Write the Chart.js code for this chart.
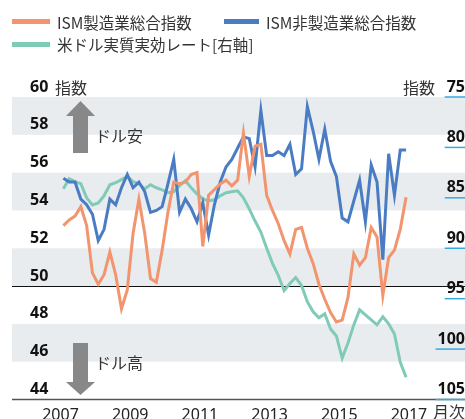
<!DOCTYPE html>
<html>
<head>
<meta charset="utf-8">
<script src="https://cdn.jsdelivr.net/npm/chart.js@4.4.0/dist/chart.umd.min.js"></script>
<style>
  body { margin: 0; background: #fff; }
  #wrap { position: relative; width: 465px; height: 419px; font-family: "Noto Sans CJK JP", sans-serif; color: #333; }
  #chart { position: absolute; left: 0; top: 0; }
  .swatch { position: absolute; height: 5px; }
  .name { position: absolute; font-size: 15.5px; line-height: 20px; white-space: nowrap; }
</style>
</head>
<body>
<div id="wrap">
  <canvas id="chart" width="465" height="419"></canvas>
  <div id="legend"></div>
</div>
<script>
// bimonthly points
const months = [
  "2007-02", "2007-04", "2007-06", "2007-08", "2007-10", "2007-12",
  "2008-02", "2008-04", "2008-06", "2008-08", "2008-10", "2008-12",
  "2009-02", "2009-04", "2009-06", "2009-08", "2009-10", "2009-12",
  "2010-02", "2010-04", "2010-06", "2010-08", "2010-10", "2010-12",
  "2011-02", "2011-04", "2011-06", "2011-08", "2011-10", "2011-12",
  "2012-02", "2012-04", "2012-06", "2012-08", "2012-10", "2012-12",
  "2013-02", "2013-04", "2013-06", "2013-08", "2013-10", "2013-12",
  "2014-02", "2014-04", "2014-06", "2014-08", "2014-10", "2014-12",
  "2015-02", "2015-04", "2015-06", "2015-08", "2015-10", "2015-12",
  "2016-02", "2016-04", "2016-06", "2016-08", "2016-10", "2016-12",
];

const ismMfg = [
  53.2, 53.5, 53.7, 54.2, 53.2, 50.7, 50.1, 50.6, 51.8, 50.6,
  48.8, 49.8, 52.8, 54.6, 52.8, 50.4, 50.2, 51.9, 53.9, 55.5,
  55.4, 55.5, 55.9, 56.0, 52.1, 54.8, 55.1, 55.4, 55.6, 55.3,
  55.6, 58.1, 55.8, 57.4, 57.5, 54.8, 54.0, 53.3, 52.4, 51.7,
  53.0, 53.1, 52.0, 51.2, 50.1, 49.3, 48.6, 48.1, 48.2, 49.4,
  51.7, 51.1, 51.5, 53.1, 52.6, 49.5, 51.5, 51.9, 53.0, 54.7,
];

const ismNonMfg = [
  55.7, 55.5, 55.5, 54.6, 54.3, 53.8, 52.4, 53.0, 54.6, 54.3,
  55.2, 55.9, 55.2, 55.5, 55.0, 53.9, 54.0, 54.2, 55.4, 56.7,
  53.9, 54.6, 54.1, 53.4, 54.4, 52.7, 54.3, 55.5, 56.3, 56.7,
  57.3, 57.9, 57.8, 56.3, 59.3, 56.9, 56.9, 57.1, 56.9, 57.5,
  55.9, 56.2, 59.5, 58.2, 56.7, 58.3, 56.6, 55.8, 53.6, 53.4,
  54.5, 55.6, 53.4, 56.4, 55.5, 51.4, 57.0, 54.8, 57.2, 57.2,
];

const usdReer = [
  84.1, 83.1, 83.4, 83.6, 85.0, 85.7, 85.5, 84.8, 83.7, 83.5,
  83.2, 82.9, 83.4, 83.6, 84.1, 83.7, 84.0, 84.2, 84.5, 84.4,
  83.8, 83.3, 84.0, 84.6, 85.1, 85.3, 85.2, 84.8, 84.5, 84.4,
  84.3, 85.0, 86.1, 87.3, 88.4, 90.0, 91.5, 92.7, 94.2, 93.5,
  92.9, 93.7, 95.3, 96.3, 96.9, 96.5, 98.0, 98.7, 100.9, 99.4,
  97.6, 96.1, 96.6, 97.1, 97.6, 96.8, 97.5, 98.5, 101.3, 102.8,
];

const yearTicks = ["2007", "2009", "2011", "2013", "2015", "2017"];
const seriesNames = ["ISM製造業総合指数", "ISM非製造業総合指数", "米ドル実質実効レート[右軸]"];
const colors = ["#f2946e", "#4a7cc4", "#80cab8"];
const unitLabel = "指数";
const xUnitLabel = "月次";
const arrowNotes = ["ドル安", "ドル高"];

const monthIndex = (s) => {
  const [y, m] = s.split("-").map(Number);
  return (y - 2007) * 12 + (m - 1);
};
const toPoints = (values) => values.map((v, i) => ({ x: monthIndex(months[i]), y: v }));

const textFont = '16px "Noto Sans CJK JP", sans-serif';
const tickFont = { family: '"Noto Sans", "Noto Sans CJK JP", sans-serif', size: 16, weight: "bold" };

// legend in html, left column / second column / second row
const legendSlots = [
  { left: 12, width: 38, top: 21.5 },
  { left: 224, width: 35, top: 21.5 },
  { left: 12, width: 38, top: 44 },
];
const legend = document.getElementById("legend");
seriesNames.forEach((name, i) => {
  const slot = legendSlots[i];
  const sw = document.createElement("div");
  sw.className = "swatch";
  sw.style.cssText = `left:${slot.left}px;width:${slot.width}px;top:${slot.top - 2.5}px;background:${colors[i]}`;
  const label = document.createElement("div");
  label.className = "name";
  label.style.cssText = `left:${slot.left + slot.width + 7}px;top:${slot.top - 10}px`;
  label.textContent = name;
  legend.appendChild(sw);
  legend.appendChild(label);
});

const drawArrow = (ctx, tipY, baseY, endY) => {
  ctx.beginPath();
  ctx.moveTo(80.5, tipY);
  ctx.lineTo(95, baseY);
  ctx.lineTo(88, baseY);
  ctx.lineTo(88, endY);
  ctx.lineTo(73, endY);
  ctx.lineTo(73, baseY);
  ctx.lineTo(66, baseY);
  ctx.closePath();
  ctx.fill();
};

const decorations = {
  id: "decorations",
  beforeDraw(chart) {
    const { ctx, scales: { y } } = chart;
    ctx.save();
    ctx.fillStyle = "#e9ecef";
    [[58, 60], [54, 56], [50, 52], [46, 48]].forEach(([lo, hi]) => {
      const top = y.getPixelForValue(hi);
      const bottom = y.getPixelForValue(lo);
      ctx.fillRect(12, top, chart.width - 12, bottom - top);
    });
    ctx.restore();
  },
  beforeDatasetsDraw(chart) {
    const { ctx, scales: { y } } = chart;
    ctx.save();
    ctx.strokeStyle = "#111";
    ctx.lineWidth = 1;
    const y50 = Math.round(y.getPixelForValue(50)) + 0.5;
    ctx.beginPath();
    ctx.moveTo(12, y50);
    ctx.lineTo(chart.width, y50);
    ctx.stroke();
    ctx.strokeStyle = "#555";
    ctx.lineWidth = 1.5;
    const yBottom = y.getPixelForValue(44);
    ctx.beginPath();
    ctx.moveTo(12, yBottom);
    ctx.lineTo(chart.width, yBottom);
    ctx.stroke();
    ctx.restore();
  },
  afterDraw(chart) {
    const { ctx, scales: { y2 } } = chart;
    ctx.save();
    // blue underline under right tick labels
    ctx.font = `bold 16px ${tickFont.family}`;
    ctx.strokeStyle = "#35a9e1";
    ctx.lineWidth = 1.5;
    y2.ticks.forEach((t) => {
      const py = y2.getPixelForValue(t.value);
      const w = ctx.measureText(String(t.value)).width;
      ctx.beginPath();
      ctx.moveTo(463 - w, py);
      ctx.lineTo(chart.width, py);
      ctx.stroke();
    });

    ctx.fillStyle = "#888";
    drawArrow(ctx, 101, 116, 153);
    drawArrow(ctx, 395, 382, 343);

    ctx.font = textFont;
    ctx.fillStyle = "#333";
    ctx.textBaseline = "middle";
    ctx.textAlign = "left";
    ctx.fillText(unitLabel, 55, 88);
    ctx.fillText(arrowNotes[0], 95, 136);
    ctx.fillText(arrowNotes[1], 95, 363);
    ctx.textAlign = "right";
    ctx.fillText(unitLabel, 435, 88);
    ctx.fillText(xUnitLabel, 465, 412);
    ctx.restore();
  },
};

new Chart(document.getElementById("chart").getContext("2d"), {
  type: "line",
  data: {
    datasets: [
      { label: seriesNames[0], data: toPoints(ismMfg), borderColor: colors[0], yAxisID: "y" },
      { label: seriesNames[1], data: toPoints(ismNonMfg), borderColor: colors[1], yAxisID: "y" },
      { label: seriesNames[2], data: toPoints(usdReer), borderColor: colors[2], yAxisID: "y2" },
    ],
  },
  options: {
    responsive: false,
    animation: false,
    devicePixelRatio: 1,
    layout: { padding: { top: 97, left: 12, right: 0, bottom: 0 } },
    elements: {
      line: { borderWidth: 3, tension: 0, fill: false },
      point: { radius: 0 },
    },
    plugins: { legend: { display: false }, tooltip: { enabled: false } },
    scales: {
      x: {
        type: "linear",
        min: -13.6,
        max: 138.95,
        grid: { display: false },
        border: { display: false },
        afterFit: (s) => { s.height = 19.5; },
        afterBuildTicks: (s) => {
          s.ticks = yearTicks.map((y) => ({ value: (Number(y) - 2007) * 12 }));
        },
        ticks: {
          padding: -2,
          color: "#222",
          font: { family: tickFont.family, size: 16 },
          callback: (v) => String(2007 + v / 12),
        },
      },
      y: {
        position: "left",
        min: 44,
        max: 60,
        grid: { display: false },
        border: { display: false },
        afterFit: (s) => { s.width = 9; },
        ticks: { stepSize: 2, mirror: true, padding: 9, labelOffset: -10, color: "#111", font: tickFont },
      },
      y2: {
        position: "right",
        min: 75,
        max: 105,
        reverse: true,
        grid: { display: false },
        border: { display: false },
        afterFit: (s) => { s.width = 1; },
        ticks: { stepSize: 5, mirror: true, padding: 1, labelOffset: -10, color: "#111", font: tickFont },
      },
    },
  },
  plugins: [decorations],
});
</script>
</body>
</html>
